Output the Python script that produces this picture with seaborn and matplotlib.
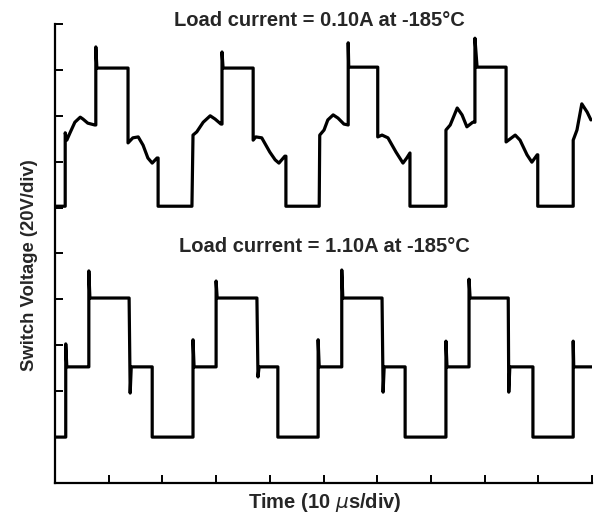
import matplotlib
matplotlib.use("Agg")
import matplotlib.pyplot as plt
import seaborn as sns
import pandas as pd

# Time axis in divisions (10 us/div), voltage in divisions (20 V/div)
top_time = [0.00, 0.19, 0.19, 0.22, 0.28, 0.37, 0.47, 0.52, 0.61, 0.74, 0.76, 0.76, 0.78, 1.36,
            1.36, 1.45, 1.55, 1.64, 1.73, 1.81, 1.90, 1.92, 1.92, 2.55,
            2.57, 2.64, 2.76, 2.89, 2.98, 3.09, 3.11, 3.11, 3.13, 3.69,
            3.69, 3.74, 3.85, 4.00, 4.10, 4.17, 4.28, 4.30, 4.30, 4.92,
            4.93, 5.01, 5.08, 5.18, 5.27, 5.38, 5.46, 5.46, 5.47, 6.01,
            6.01, 6.09, 6.20, 6.35, 6.48, 6.55, 6.61, 6.61, 7.28,
            7.28, 7.36, 7.49, 7.58, 7.67, 7.78, 7.82, 7.82, 7.86, 8.40,
            8.40, 8.57, 8.66, 8.79, 8.88, 8.98, 8.99, 8.99, 9.65,
            9.65, 9.72, 9.81, 9.91, 9.98]
top_volt = [6.03, 6.03, 7.63, 7.47, 7.63, 7.86, 7.97, 7.93, 7.84, 7.80, 7.80, 9.50, 9.04, 9.04,
            7.41, 7.52, 7.54, 7.36, 7.08, 6.97, 7.08, 7.08, 6.03, 6.03,
            7.58, 7.65, 7.86, 8.00, 7.93, 7.82, 7.82, 9.39, 9.04, 9.04,
            7.47, 7.54, 7.52, 7.21, 7.04, 6.97, 7.12, 7.12, 6.03, 6.03,
            7.58, 7.69, 7.91, 8.02, 7.95, 7.82, 7.80, 9.59, 9.06, 9.06,
            7.54, 7.58, 7.52, 7.21, 6.97, 7.08, 7.19, 6.03, 6.03,
            7.69, 7.80, 8.17, 8.02, 7.76, 7.86, 7.86, 9.69, 9.06, 9.06,
            7.43, 7.58, 7.47, 7.15, 6.99, 7.15, 7.15, 6.03, 6.03,
            7.47, 7.69, 8.26, 8.08, 7.91]

bottom_time = [0.00, 0.20, 0.20, 0.22, 0.61, 0.63, 0.63, 0.65, 1.38, 1.40, 1.42, 1.81, 1.81, 2.57,
               2.57, 2.59, 3.00, 3.00, 3.02, 3.76, 3.78, 3.80, 4.15, 4.15, 4.90,
               4.90, 4.92, 5.34, 5.34, 5.36, 6.09, 6.11, 6.13, 6.52, 6.52, 7.28,
               7.28, 7.30, 7.71, 7.71, 7.73, 8.44, 8.45, 8.47, 8.90, 8.90, 9.65,
               9.65, 9.66, 10.00]
bottom_volt = [1.00, 1.00, 3.03, 2.53, 2.53, 2.53, 4.62, 4.03, 4.03, 1.96, 2.53, 2.53, 1.00, 1.00,
               3.12, 2.53, 2.53, 4.40, 4.03, 4.03, 2.31, 2.53, 2.53, 1.00, 1.00,
               3.12, 2.53, 2.53, 4.64, 4.03, 4.03, 1.98, 2.53, 2.53, 1.00, 1.00,
               3.09, 2.53, 2.53, 4.44, 4.03, 4.03, 1.98, 2.53, 2.53, 1.00, 1.00,
               3.09, 2.53, 2.53]

titles = ["Load current = 0.10A at -185°C", "Load current = 1.10A at -185°C"]
ticks = list(range(0, 11))

sns.set_style("ticks")
plt.rcParams['font.family'] = ['Liberation Sans', 'DejaVu Sans']

fig = plt.figure(figsize=(5.95, 5.18), dpi=100)
ax = fig.add_axes([55/595, 35/518, 537/595, 459/518])

df_top = pd.DataFrame({"t": top_time, "v": top_volt})
df_bot = pd.DataFrame({"t": bottom_time, "v": bottom_volt})
sns.lineplot(data=df_top, x="t", y="v", sort=False, estimator=None, color="black", lw=2.3, ax=ax)
sns.lineplot(data=df_bot, x="t", y="v", sort=False, estimator=None, color="black", lw=2.3, ax=ax)

ax.set_xlim(0, 10)
ax.set_ylim(0, 10)
ax.set_xticks(ticks)
ax.set_yticks(ticks)
ax.set_xticklabels([])
ax.set_yticklabels([])
ax.tick_params(direction="in", length=6, width=1.4, color="black")
for s in ["top", "right"]:
    ax.spines[s].set_visible(False)
for s in ["left", "bottom"]:
    ax.spines[s].set_linewidth(1.6)
    ax.spines[s].set_color("black")
ax.set_xlabel("")
ax.set_ylabel("")

fig.text(319/595, 1 - 21/518, titles[0], ha="center", va="center", fontsize=14.5, fontweight="bold")
fig.text(324/595, 1 - 247/518, titles[1], ha="center", va="center", fontsize=14.5, fontweight="bold")
fig.text(30/595, 1 - 265/518, "Switch Voltage (20V/div)", rotation=90, ha="center", va="center",
         fontsize=13.3, fontweight="bold")
fig.text(325/595, 1 - 503/518, "Time (10 $\\mu$s/div)", ha="center", va="center",
         fontsize=14.5, fontweight="bold")

fig.savefig("out.png", dpi=100)
